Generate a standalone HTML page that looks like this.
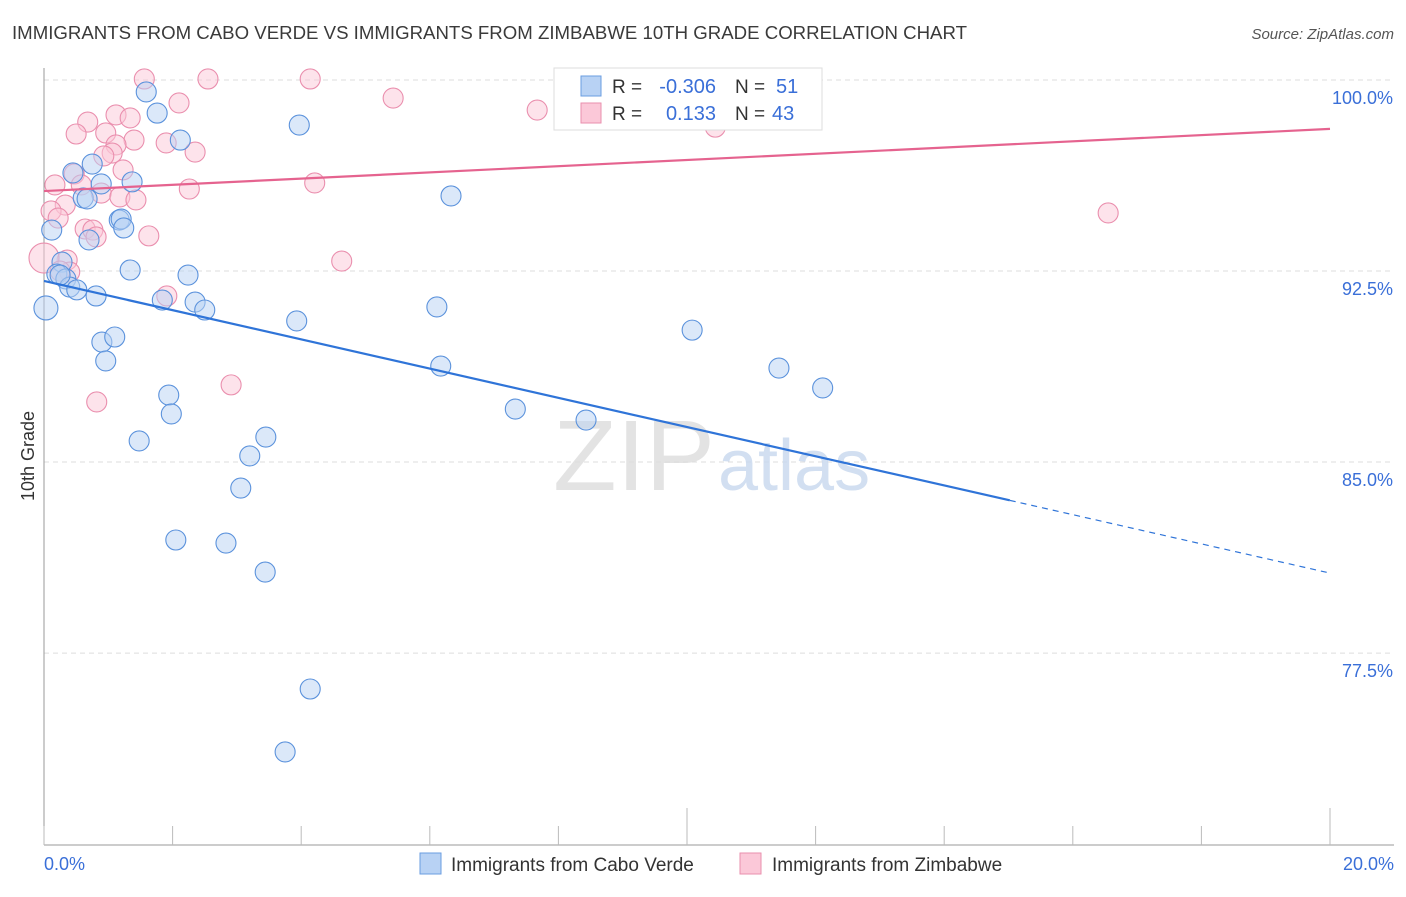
<!DOCTYPE html>
<html><head><meta charset="utf-8"><style>
body{margin:0;background:#fff;font-family:"Liberation Sans",sans-serif;}
svg text{font-family:"Liberation Sans",sans-serif;}
</style></head><body>
<svg id="chart" width="1406" height="892" viewBox="0 0 1406 892" xmlns="http://www.w3.org/2000/svg">
<text x="12" y="39" font-size="18.6" fill="#3a3a3a" textLength="955" lengthAdjust="spacingAndGlyphs">IMMIGRANTS FROM CABO VERDE VS IMMIGRANTS FROM ZIMBABWE 10TH GRADE CORRELATION CHART</text>
<text x="1394" y="39" font-size="15" fill="#555" text-anchor="end" font-style="italic">Source: ZipAtlas.com</text>
<g id="grid"></g>
<g>
<text x="553" y="490" font-size="100" fill="#ddd" font-family="Liberation Serif" opacity="0.8" textLength="162" lengthAdjust="spacingAndGlyphs">ZIP</text>
<text x="718" y="490" font-size="72" fill="#c8d8ee" opacity="0.8">atlas</text>
</g>
<line x1="44" y1="68" x2="44" y2="845" stroke="#999"/>
<line x1="44" y1="845" x2="1394" y2="845" stroke="#999"/>
<g id="xticks"></g>
<g id="ylabels"></g>
<text transform="translate(34,456) rotate(-90)" font-size="18" fill="#333" text-anchor="middle">10th Grade</text>
<text x="44" y="870" font-size="18" fill="#3a6fd8">0.0%</text>
<text x="1394" y="870" font-size="18" fill="#3a6fd8" text-anchor="end">20.0%</text>
<g id="pts"></g>
<g id="lines"></g>
<g>
<rect x="554" y="68" width="268" height="62" fill="#fff" stroke="#ddd"/>
<rect x="581" y="76" width="20" height="20" fill="#b8d2f4" stroke="#6a9de0"/>
<rect x="581" y="103" width="20" height="20" fill="#fbc8d8" stroke="#ea8fae"/>
<text x="612" y="93" font-size="19" fill="#333">R =</text>
<text x="716" y="93" font-size="20" fill="#3a6fd8" text-anchor="end">-0.306</text>
<text x="735" y="93" font-size="19" fill="#333">N =</text>
<text x="776" y="93" font-size="20" fill="#3a6fd8">51</text>
<text x="612" y="120" font-size="19" fill="#333">R =</text>
<text x="716" y="120" font-size="20" fill="#3a6fd8" text-anchor="end">0.133</text>
<text x="735" y="120" font-size="19" fill="#333">N =</text>
<text x="772" y="120" font-size="20" fill="#3a6fd8">43</text>
</g>
<g>
<rect x="420" y="853" width="21" height="21" fill="#b8d2f4" stroke="#6a9de0"/>
<text x="451" y="871" font-size="19" fill="#333">Immigrants from Cabo Verde</text>
<rect x="740" y="853" width="21" height="21" fill="#fbc8d8" stroke="#ea8fae"/>
<text x="772" y="871" font-size="19" fill="#333">Immigrants from Zimbabwe</text>
</g>
</svg>
<script>
const yTicks=[100,92.5,85,77.5];
const yTickLabels=["100.0%","92.5%","85.0%","77.5%"];
const blueX=[1.59,1.76,2.12,3.97,0.75,0.45,0.89,1.37,0.61,0.67,6.33,1.17,1.20,1.24,0.12,0.70,0.28,1.34,2.24,0.20,0.34,0.40,0.51,0.81,1.84,2.35,2.50,0.03,6.11,3.93,10.08,0.90,1.10,0.96,6.17,11.43,12.11,1.94,1.98,7.33,8.43,1.48,3.45,3.20,3.06,2.05,2.83,3.44,4.14,3.75,0.25];
const blueY=[99.53,98.70,97.64,98.23,96.70,96.35,95.92,96.00,95.37,95.33,95.45,94.50,94.54,94.19,94.11,93.72,92.85,92.54,92.34,92.38,92.19,91.87,91.76,91.52,91.36,91.28,90.97,91.05,91.09,90.54,90.18,89.71,89.91,88.97,88.77,88.69,87.91,87.63,86.89,87.08,86.65,85.83,85.98,85.24,83.98,81.94,81.82,80.68,76.09,73.62,92.34];
const blueBig=[27];
const pinkX=[1.56,2.55,4.14,2.10,5.43,7.67,1.12,1.34,0.68,0.50,0.96,1.40,1.90,1.12,2.35,1.06,0.93,1.23,0.47,0.58,0.17,2.26,4.21,0.89,1.18,1.43,0.33,0.11,0.22,16.55,10.44,0.64,0.76,0.81,1.63,4.63,0.36,0.40,1.91,2.91,0.82,0.0,0.25];
const pinkY=[100.04,100.04,100.04,99.10,99.29,98.82,98.63,98.51,98.35,97.88,97.92,97.64,97.53,97.45,97.17,97.13,97.02,96.47,96.31,95.88,95.88,95.72,95.96,95.56,95.41,95.29,95.09,94.86,94.58,94.78,98.15,94.15,94.11,93.84,93.88,92.89,92.93,92.46,91.52,88.03,87.36,93.01,92.50];
const pinkBig=[41];
const blueTrend=[92.11,80.64];
const blueSolidEnd=15.02;
const pinkTrend=[95.64,98.08];
const xTickVals=[0,2,4,6,8,10,12,14,16,18,20];

const NS="http://www.w3.org/2000/svg";
const X=v=>44+v*64.3;
const Y=v=>80+(100-v)*25.47;
function mk(t,a,p){const e=document.createElementNS(NS,t);for(const k in a)e.setAttribute(k,a[k]);p.appendChild(e);return e;}
const grid=document.getElementById('grid'),yl=document.getElementById('ylabels');
yTicks.forEach((t,i)=>{
 const l=mk('line',{x1:44,x2:1394,y1:Y(t),y2:Y(t),stroke:'#ddd','stroke-dasharray':'5,4'},grid);
 
 
 const tx=mk('text',{x:1393,y:Y(t)+24,'font-size':18,fill:'#3a6fd8','text-anchor':'end'},yl);
 tx.textContent=yTickLabels[i];
 
 
});
const xt=document.getElementById('xticks');
xTickVals.forEach(v=>{
 const long=(v===10||v===20);
 const l=mk('line',{x1:X(v),x2:X(v),y1:long?808:826,y2:845,stroke:'#bbb'},xt);
 
 
});
const pts=document.getElementById('pts');
function series(xs,ys,big,bigR,fill,stroke,name){
 xs.forEach((x,i)=>{
  const c=mk('circle',{cx:X(x),cy:Y(ys[i]),r:big.includes(i)?bigR:10,fill:fill,'fill-opacity':0.5,stroke:stroke,'stroke-width':1.1},pts);
  
  
 });
}
series(pinkX,pinkY,pinkBig,15,'#fbc8d8','#ea8fae','point-zimbabwe');
series(blueX,blueY,blueBig,12,'#b8d2f4','#5b92dc','point-cabo-verde');
const ln=document.getElementById('lines');
const bAt=v=>blueTrend[0]+(blueTrend[1]-blueTrend[0])*v/20;
let e=mk('line',{x1:X(0),y1:Y(bAt(0)),x2:X(blueSolidEnd),y2:Y(bAt(blueSolidEnd)),stroke:'#2f74d8','stroke-width':2.2},ln);


e=mk('line',{x1:X(blueSolidEnd),y1:Y(bAt(blueSolidEnd)),x2:X(20),y2:Y(bAt(20)),stroke:'#2f74d8','stroke-width':1.2,'stroke-dasharray':'6,5'},ln);


e=mk('line',{x1:X(0),y1:Y(pinkTrend[0]),x2:X(20),y2:Y(pinkTrend[1]),stroke:'#e5638f','stroke-width':2.2},ln);


</script>
</body></html>
